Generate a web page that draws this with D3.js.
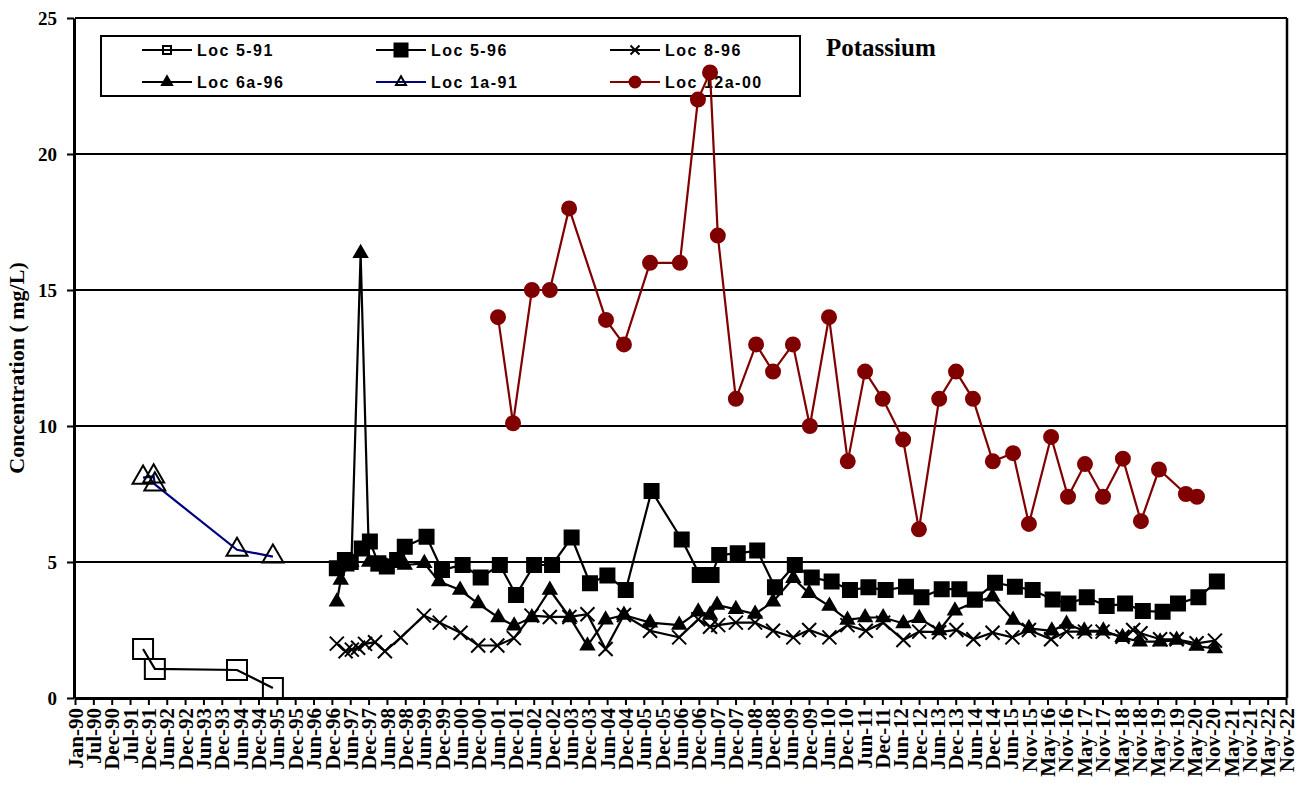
<!DOCTYPE html>
<html>
<head>
<meta charset="utf-8">
<script src="https://cdn.jsdelivr.net/npm/d3@7"></script>
<style>
  body { margin: 0; background: #fff; }
  svg { display: block; }
</style>
</head>
<body>
<div id="chart"></div>
<script>
// x axis tick labels, one every 182 days from 1 Jan 1990
const tickLabels = ["Jan-90","Jul-90","Dec-90","Jul-91","Dec-91","Jun-92","Dec-92","Jun-93","Dec-93","Jun-94","Dec-94","Jun-95","Dec-95","Jun-96","Dec-96","Jun-97","Dec-97","Jun-98","Dec-98","Jun-99","Dec-99","Jun-00","Dec-00","Jun-01","Dec-01","Jun-02","Dec-02","Jun-03","Dec-03","Jun-04","Dec-04","Jun-05","Dec-05","Jun-06","Dec-06","Jun-07","Dec-07","Jun-08","Dec-08","Jun-09","Dec-09","Jun-10","Dec-10","Jun-11","Dec-11","Jun-12","Dec-12","Jun-13","Dec-13","Jun-14","Dec-14","Jun-15","Nov-15","May-16","Nov-16","May-17","Nov-17","May-18","Nov-18","May-19","Nov-19","May-20","Nov-20","May-21","Nov-21","May-22","Nov-22"];
const yTicks = [0, 5, 10, 15, 20, 25];

// Loc 5-91
const loc591Dates = ["1991-11-07","1992-03-03","1994-05-27","1995-05-18"];
const loc591Values = [1.80, 1.07, 1.03, 0.37];

// Loc 1a-91
const loc1a91Dates = ["1991-11-07","1992-02-20","1992-03-03","1994-05-27","1995-05-18"];
const loc1a91Values = [8.10, 8.15, 7.85, 5.45, 5.20];

// Loc 5-96
const loc596Dates = ["1997-02-10","1997-05-01","1997-06-28","1997-10-15","1998-01-04","1998-03-29","1998-06-21","1998-10-01","1998-12-16","1999-07-20","1999-12-20","2000-07-12","2001-01-07","2001-07-16","2001-12-24","2002-06-21","2002-12-16","2003-06-28","2003-12-27","2004-06-17","2004-12-16","2005-08-29","2006-06-24","2006-12-20","2007-04-16","2007-07-01","2008-01-01","2008-07-12","2009-01-04","2009-07-20","2010-01-04","2010-07-20","2011-01-18","2011-07-20","2012-01-07","2012-07-27","2012-12-27","2013-07-16","2014-01-07","2014-06-10","2014-12-27","2015-07-12","2016-01-04","2016-07-20","2016-12-24","2017-06-24","2018-01-07","2018-07-09","2019-01-01","2019-07-16","2019-12-16","2020-07-05","2021-01-04"];
const loc596Values = [4.77,5.07,5.00,5.50,5.75,4.95,4.83,5.07,5.56,5.93,4.71,4.89,4.43,4.89,3.79,4.89,4.89,5.90,4.22,4.50,3.97,7.61,5.83,4.52,4.52,5.26,5.32,5.42,4.07,4.89,4.43,4.28,3.97,4.07,3.97,4.09,3.70,4.00,4.00,3.62,4.24,4.09,3.97,3.62,3.47,3.70,3.38,3.47,3.20,3.17,3.47,3.70,4.28];

// Loc 8-96
const loc896Dates = ["1997-02-10","1997-05-08","1997-07-09","1997-09-09","1997-11-17","1998-02-24","1998-06-02","1998-11-06","1999-06-24","1999-11-28","2000-06-21","2000-12-13","2001-06-21","2001-12-02","2002-05-26","2002-11-24","2003-06-06","2003-12-02","2004-05-30","2004-11-28","2005-08-14","2006-05-30","2006-12-05","2007-04-01","2007-06-21","2007-12-13","2008-06-21","2008-12-16","2009-07-05","2009-12-09","2010-06-28","2010-12-24","2011-06-24","2011-12-13","2012-07-01","2012-12-05","2013-06-21","2013-12-09","2014-05-26","2014-12-02","2015-06-17","2015-11-28","2016-07-05","2016-12-05","2017-06-06","2017-11-28","2018-06-13","2018-09-27","2018-12-09","2019-06-21","2019-12-02","2020-06-17","2020-12-16"];
const loc896Values = [2.00,1.72,1.78,1.85,1.99,2.05,1.72,2.22,3.03,2.77,2.40,1.93,1.93,2.20,3.03,2.98,2.98,3.08,1.80,3.05,2.47,2.23,2.89,2.62,2.68,2.77,2.77,2.47,2.23,2.50,2.23,2.68,2.47,2.77,2.13,2.44,2.42,2.50,2.16,2.40,2.23,2.50,2.16,2.44,2.44,2.44,2.25,2.50,2.38,2.16,2.16,2.01,2.11];

// Loc 6a-96
const loc6a96Dates = ["1997-02-10","1997-03-21","1997-05-19","1997-07-05","1997-10-04","1997-12-27","1998-03-29","1998-06-21","1998-12-16","1999-06-28","1999-11-21","2000-06-17","2000-12-13","2001-07-01","2001-12-05","2002-05-30","2002-11-24","2003-06-10","2003-12-02","2004-05-30","2004-11-28","2005-08-14","2006-05-30","2006-12-05","2007-04-01","2007-06-10","2007-12-13","2008-06-21","2008-12-16","2009-07-05","2009-12-09","2010-06-28","2010-12-24","2011-06-17","2011-12-13","2012-07-01","2012-12-05","2013-06-21","2013-11-24","2014-05-26","2014-12-02","2015-06-24","2015-11-28","2016-07-12","2016-12-05","2017-05-30","2017-12-05","2018-06-13","2018-12-02","2019-06-21","2019-12-02","2020-06-17","2020-12-16"];
const loc6a96Values = [3.54,4.34,4.83,5.00,16.35,5.00,4.83,4.83,4.89,4.95,4.28,3.97,3.47,2.96,2.66,2.96,3.97,2.96,1.92,2.88,3.05,2.77,2.68,3.17,3.05,3.42,3.26,3.09,3.54,4.40,3.85,3.38,2.87,2.96,2.96,2.74,2.93,2.48,3.21,3.50,3.72,2.87,2.56,2.47,2.72,2.47,2.47,2.23,2.07,2.07,2.13,1.91,1.82];

// Loc 12a-00
const loc12a00Dates = ["2001-06-28","2001-11-24","2002-05-30","2002-11-24","2003-06-03","2004-06-03","2004-11-28","2005-08-14","2006-06-06","2006-12-02","2007-04-01","2007-06-17","2007-12-13","2008-07-01","2008-12-16","2009-07-01","2009-12-16","2010-06-24","2010-12-27","2011-06-17","2011-12-09","2012-06-28","2012-12-02","2013-06-21","2013-12-05","2014-05-22","2014-12-05","2015-06-24","2015-11-28","2016-07-05","2016-12-20","2017-06-06","2017-12-02","2018-06-17","2018-12-13","2019-06-10","2020-03-03","2020-06-21"];
const loc12a00Values = [14.0,10.1,15.0,15.0,18.0,13.9,13.0,16.0,16.0,22.0,23.0,17.0,11.0,13.0,12.0,13.0,10.0,14.0,8.7,12.0,11.0,9.5,6.2,11.0,12.0,11.0,8.7,9.0,6.4,9.6,7.4,8.6,7.4,8.8,6.5,8.4,7.5,7.4];

const width = 1301;
const height = 789;
const plot = { left: 75, right: 1286, top: 18, bottom: 698 };
const serif = "'Liberation Serif', 'Times New Roman', serif";
const sans = "'Liberation Sans', Arial, sans-serif";

const parse = d3.utcParse("%Y-%m-%d");
const base = Date.UTC(1990, 0, 1);
const tickDates = tickLabels.map((d, i) => d3.utcDay.offset(new Date(base), i * 182));

// marker shapes
const squarePath = (s) => `M${-s/2},${-s/2}h${s}v${s}h${-s}Z`;
const trianglePath = (s) => { const h = s * 0.866; return `M0,${-h*2/3}L${s/2},${h/3}L${-s/2},${h/3}Z`; };
const crossPath = (s) => `M${-s/2},${-s/2}L${s/2},${s/2}M${-s/2},${s/2}L${s/2},${-s/2}`;
const circlePath = (s) => d3.symbol(d3.symbolCircle, Math.PI * s * s / 4)();

const series = [
  { name: "Loc 5-91", dates: loc591Dates, values: loc591Values, color: "#000", shape: squarePath, size: 20, fill: "none", legendSize: 8 },
  { name: "Loc 5-96", dates: loc596Dates, values: loc596Values, color: "#000", shape: squarePath, size: 14, fill: "#000", legendSize: 13 },
  { name: "Loc 8-96", dates: loc896Dates, values: loc896Values, color: "#000", shape: crossPath, size: 14, fill: "none", legendSize: 9 },
  { name: "Loc 6a-96", dates: loc6a96Dates, values: loc6a96Values, color: "#000", shape: trianglePath, size: 13, fill: "#000", legendSize: 10 },
  { name: "Loc 1a-91", dates: loc1a91Dates, values: loc1a91Values, color: "#000080", shape: trianglePath, size: 21, fill: "none", legendSize: 10, markerColor: "#000" },
  { name: "Loc 12a-00", dates: loc12a00Dates, values: loc12a00Values, color: "#800000", shape: circlePath, size: 14, fill: "#800000", legendSize: 11 }
];

const svg = d3.select("#chart")
  .append("svg")
  .attr("width", width)
  .attr("height", height)
  .attr("viewBox", [0, 0, width, height]);

const x = d3.scaleUtc()
  .domain([new Date(base), d3.utcDay.offset(new Date(base), 12012)])
  .range([plot.left, plot.right]);
const y = d3.scaleLinear().domain([0, 25]).range([plot.bottom, plot.top]);

// gridlines
svg.append("g")
  .selectAll("line")
  .data(yTicks.filter(d => d > 0))
  .join("line")
  .attr("x1", plot.left)
  .attr("x2", plot.right + 1)
  .attr("y1", d => y(d))
  .attr("y2", d => y(d))
  .attr("stroke", "#000")
  .attr("stroke-width", 2);

// right border
svg.append("line")
  .attr("x1", plot.right + 1).attr("x2", plot.right + 1)
  .attr("y1", plot.top).attr("y2", plot.bottom)
  .attr("stroke", "#000").attr("stroke-width", 2.5);

// y axis
const yAxis = svg.append("g")
  .attr("transform", `translate(${plot.left - 1},0)`)
  .call(d3.axisLeft(y).tickValues(yTicks).tickSize(7).tickSizeOuter(0).tickPadding(10));
yAxis.select(".domain").attr("stroke-width", 3);
yAxis.selectAll(".tick line").attr("stroke-width", 2);
yAxis.selectAll(".tick text")
  .attr("font-family", serif)
  .attr("font-weight", "bold")
  .attr("font-size", 19)
  .attr("fill", "#000");

// x axis
const xAxis = svg.append("g")
  .attr("transform", `translate(0,${plot.bottom})`)
  .call(d3.axisBottom(x).tickValues(tickDates).tickFormat((d, i) => tickLabels[i]).tickSize(7).tickSizeOuter(0));
xAxis.select(".domain").attr("stroke-width", 3);
xAxis.selectAll(".tick line").attr("stroke-width", 2);
xAxis.selectAll(".tick text")
  .attr("font-family", serif)
  .attr("font-weight", "bold")
  .attr("font-size", 21)
  .attr("fill", "#000")
  .attr("text-anchor", "end")
  .attr("transform", "rotate(-90)")
  .attr("x", -10)
  .attr("y", 0)
  .attr("dy", "0.34em");

// y axis title
svg.append("text")
  .attr("transform", "translate(24,368) rotate(-90)")
  .attr("text-anchor", "middle")
  .attr("font-family", serif)
  .attr("font-weight", "bold")
  .attr("font-size", 22)
  .text("Concentration ( mg/L)");

// legend (drawn under the series, as in the original)
const legend = svg.append("g");
legend.append("rect")
  .attr("x", 101).attr("y", 36)
  .attr("width", 699).attr("height", 60)
  .attr("fill", "#fff")
  .attr("stroke", "#000")
  .attr("stroke-width", 2);

const colX = [167, 401, 635];
const rowY = [50, 82];
series.forEach((s, i) => {
  const cx = colX[i % 3];
  const cy = rowY[Math.floor(i / 3)];
  const g = legend.append("g").attr("transform", `translate(${cx},${cy})`);
  g.append("line")
    .attr("x1", -25).attr("x2", 25)
    .attr("stroke", s.color).attr("stroke-width", 2.2);
  g.append("path")
    .attr("d", s.shape(s.legendSize))
    .attr("fill", s.fill)
    .attr("stroke", s.markerColor || s.color)
    .attr("stroke-width", 2);
  g.append("text")
    .attr("x", 30)
    .attr("dy", "0.36em")
    .attr("font-family", sans)
    .attr("font-weight", "bold")
    .attr("font-size", 16)
    .attr("letter-spacing", 1.5)
    .text(s.name);
});

// title
svg.append("text")
  .attr("x", 826)
  .attr("y", 56)
  .attr("font-family", serif)
  .attr("font-weight", "bold")
  .attr("font-size", 25)
  .text("Potassium");

// series lines and markers
const line = d3.line()
  .x(d => x(d.date))
  .y(d => y(d.value));

series.forEach(s => {
  const pts = s.dates.map((d, i) => ({ date: parse(d), value: s.values[i] }));
  const g = svg.append("g");
  g.append("path")
    .datum(pts)
    .attr("fill", "none")
    .attr("stroke", s.color)
    .attr("stroke-width", 2.2)
    .attr("d", line);
  g.selectAll("path.m")
    .data(pts)
    .join("path")
    .attr("class", "m")
    .attr("transform", d => `translate(${x(d.date)},${y(d.value)})`)
    .attr("d", s.shape(s.size))
    .attr("fill", s.fill)
    .attr("stroke", s.markerColor || s.color)
    .attr("stroke-width", 2);
});
</script>
</body>
</html>
